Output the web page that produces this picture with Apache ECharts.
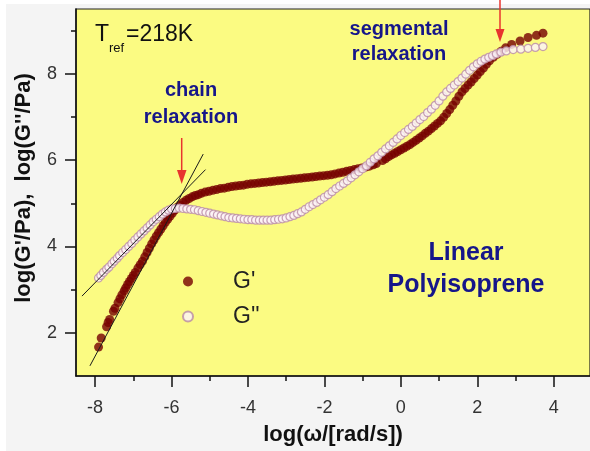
<!DOCTYPE html>
<html>
<head>
<meta charset="utf-8">
<script src="https://cdn.jsdelivr.net/npm/echarts@6/dist/echarts.min.js"></script>
<style>
  html, body { margin: 0; padding: 0; background: #fff; }
  #chart { width: 590px; height: 451px; }
</style>
</head>
<body>
<div id="chart"></div>
<script>
// log(G'/Pa) vs log(omega) -- storage modulus
const storageModulus = [
  [-7.91, 1.67], [-7.84, 1.88], [-7.70, 2.14], [-7.66, 2.24], [-7.62, 2.31], [-7.52, 2.50],
  [-7.48, 2.57], [-7.40, 2.70], [-7.35, 2.79], [-7.30, 2.88], [-7.24, 2.97], [-7.20, 3.04],
  [-7.15, 3.12], [-7.10, 3.19], [-7.05, 3.26], [-7.00, 3.33], [-6.95, 3.40], [-6.88, 3.50],
  [-6.82, 3.58], [-6.76, 3.66], [-6.70, 3.76], [-6.64, 3.86], [-6.58, 3.96], [-6.52, 4.06],
  [-6.46, 4.15], [-6.40, 4.24], [-6.34, 4.32], [-6.28, 4.40], [-6.22, 4.48], [-6.16, 4.56],
  [-6.10, 4.63], [-6.04, 4.70], [-5.98, 4.77], [-5.92, 4.84], [-5.86, 4.90], [-5.78, 4.96],
  [-5.70, 5.02], [-5.62, 5.07], [-5.54, 5.11], [-5.46, 5.15], [-5.38, 5.18], [-5.30, 5.20],
  [-5.22, 5.23], [-5.12, 5.26], [-5.02, 5.28], [-4.92, 5.30], [-4.82, 5.32], [-4.72, 5.34],
  [-4.62, 5.35], [-4.52, 5.37], [-4.42, 5.39], [-4.32, 5.40], [-4.22, 5.41], [-4.12, 5.42],
  [-4.02, 5.44], [-3.92, 5.45], [-3.82, 5.46], [-3.72, 5.47], [-3.62, 5.48], [-3.52, 5.49],
  [-3.42, 5.50], [-3.32, 5.51], [-3.22, 5.52], [-3.12, 5.53], [-3.02, 5.54], [-2.92, 5.55],
  [-2.82, 5.56], [-2.72, 5.57], [-2.62, 5.58], [-2.52, 5.59], [-2.42, 5.60], [-2.32, 5.61],
  [-2.22, 5.62], [-2.12, 5.63], [-2.02, 5.64], [-1.92, 5.65], [-1.82, 5.66], [-1.72, 5.68],
  [-1.62, 5.70], [-1.52, 5.72], [-1.42, 5.74], [-1.32, 5.76], [-1.22, 5.78], [-1.12, 5.80],
  [-1.02, 5.82], [-0.92, 5.84], [-0.82, 5.86], [-0.72, 5.89], [-0.64, 5.92], [-0.48, 5.99],
  [-0.40, 6.03], [-0.32, 6.08], [-0.24, 6.12], [-0.16, 6.16], [-0.08, 6.20], [0.00, 6.24],
  [0.08, 6.28], [0.16, 6.32], [0.24, 6.36], [0.32, 6.41], [0.40, 6.46], [0.48, 6.51],
  [0.56, 6.56], [0.64, 6.62], [0.72, 6.67], [0.80, 6.73], [0.88, 6.79], [0.96, 6.85],
  [1.04, 6.91], [1.12, 6.99], [1.20, 7.08], [1.28, 7.17], [1.36, 7.27], [1.44, 7.37],
  [1.52, 7.48], [1.60, 7.58], [1.68, 7.66], [1.76, 7.74], [1.84, 7.81], [1.92, 7.89],
  [2.00, 7.97], [2.08, 8.05], [2.16, 8.13], [2.24, 8.22], [2.32, 8.30], [2.42, 8.38],
  [2.52, 8.45], [2.62, 8.52], [2.74, 8.60], [2.90, 8.68], [3.12, 8.76], [3.33, 8.84],
  [3.55, 8.89], [3.72, 8.94]
]

// log(G''/Pa) vs log(omega) -- loss modulus
const lossModulus = [
  [-7.91, 3.27], [-7.85, 3.33], [-7.78, 3.40], [-7.70, 3.47], [-7.64, 3.52], [-7.56, 3.60],
  [-7.50, 3.66], [-7.42, 3.73], [-7.36, 3.79], [-7.28, 3.86], [-7.20, 3.93], [-7.12, 4.00],
  [-7.04, 4.07], [-6.96, 4.15], [-6.88, 4.22], [-6.80, 4.29], [-6.72, 4.36], [-6.64, 4.43],
  [-6.56, 4.50], [-6.48, 4.57], [-6.40, 4.63], [-6.32, 4.69], [-6.24, 4.75], [-6.16, 4.80],
  [-6.08, 4.84], [-6.00, 4.87], [-5.90, 4.88], [-5.80, 4.89], [-5.70, 4.88], [-5.60, 4.87],
  [-5.50, 4.86], [-5.40, 4.85], [-5.30, 4.83], [-5.20, 4.81], [-5.10, 4.79], [-5.00, 4.77],
  [-4.90, 4.75], [-4.80, 4.73], [-4.70, 4.71], [-4.60, 4.69], [-4.50, 4.67], [-4.40, 4.66],
  [-4.30, 4.65], [-4.20, 4.64], [-4.10, 4.63], [-4.00, 4.62], [-3.90, 4.62], [-3.80, 4.61],
  [-3.70, 4.61], [-3.60, 4.61], [-3.50, 4.61], [-3.40, 4.61], [-3.30, 4.62], [-3.20, 4.63],
  [-3.10, 4.64], [-3.00, 4.66], [-2.90, 4.69], [-2.80, 4.72], [-2.70, 4.76], [-2.60, 4.80],
  [-2.50, 4.86], [-2.40, 4.92], [-2.30, 4.97], [-2.20, 5.02], [-2.10, 5.08], [-2.00, 5.14],
  [-1.90, 5.20], [-1.80, 5.27], [-1.70, 5.34], [-1.60, 5.40], [-1.50, 5.46], [-1.40, 5.52],
  [-1.30, 5.59], [-1.20, 5.66], [-1.10, 5.73], [-1.00, 5.80], [-0.90, 5.87], [-0.80, 5.95],
  [-0.70, 6.03], [-0.60, 6.10], [-0.50, 6.18], [-0.40, 6.26], [-0.30, 6.33], [-0.20, 6.41],
  [-0.10, 6.49], [0.00, 6.57], [0.10, 6.64], [0.20, 6.71], [0.30, 6.78], [0.40, 6.86],
  [0.50, 6.94], [0.60, 7.01], [0.70, 7.10], [0.80, 7.18], [0.90, 7.27], [1.00, 7.37],
  [1.10, 7.48], [1.20, 7.58], [1.30, 7.66], [1.40, 7.74], [1.50, 7.82], [1.60, 7.90],
  [1.70, 7.99], [1.80, 8.08], [1.90, 8.16], [2.00, 8.23], [2.10, 8.29], [2.20, 8.34],
  [2.30, 8.38], [2.40, 8.42], [2.50, 8.46], [2.62, 8.50], [2.76, 8.53], [2.94, 8.56],
  [3.14, 8.57], [3.33, 8.59], [3.52, 8.61], [3.72, 8.63]
]

// terminal-zone fit lines (end points)
const fitLineStorage = [[-8.135, 1.235], [-5.171, 6.14]]
const fitLineLoss = [[-8.344, 2.85], [-5.111, 5.78]]

const xMajorTicks = [-8, -6, -4, -2, 0, 2, 4]
const xMinorTicks = [-7, -5, -3, -1, 1, 3]
const yMajorTicks = [2, 4, 6, 8]
const yMinorTicks = [3, 5, 7, 9]

const FONT = 'Liberation Sans'
const NAVY = '#16168a'
const ARROW = '#e8342e'

const chart = echarts.init(document.getElementById('chart'))

const fitLine = (data) => ({
  type: 'line',
  data: data,
  symbol: 'none',
  silent: true,
  z: 5,
  lineStyle: { color: '#1a1a1a', width: 1 },
  xAxisIndex: 0,
  yAxisIndex: 0
})

chart.setOption({
  backgroundColor: '#f4f4f4',
  animation: false,
  grid: {
    left: 76,
    right: -2,
    top: 9,
    bottom: 70,
    show: true,
    backgroundColor: '#fbfb82',
    borderColor: '#222',
    borderWidth: 1.2
  },
  legend: {
    data: ["G'", "G''"],
    orient: 'vertical',
    left: 177,
    top: 265,
    itemWidth: 80,
    itemHeight: 10,
    itemGap: 12,
    textStyle: { fontFamily: FONT, fontSize: 23, color: '#222' }
  },
  xAxis: [{
    type: 'value',
    min: -8.5,
    max: 4.95,
    position: 'bottom',
    splitLine: { show: false },
    axisLine: { onZero: false, lineStyle: { color: '#111', width: 1.5 } },
    axisTick: { customValues: xMajorTicks, length: 11, lineStyle: { color: '#111', width: 1.5 } },
    axisLabel: { customValues: xMajorTicks, margin: 23, fontFamily: FONT, fontSize: 18, color: '#333' },
    name: 'log(ω/[rad/s])',
    nameLocation: 'middle',
    nameGap: 48,
    nameTextStyle: { fontFamily: FONT, fontSize: 22, fontWeight: 'bold', color: '#111' }
  }, {
    type: 'value',
    min: -8.5,
    max: 4.95,
    position: 'bottom',
    splitLine: { show: false },
    axisLine: { show: false, onZero: false },
    axisTick: { customValues: xMinorTicks, length: 5, lineStyle: { color: '#111', width: 1.5 } },
    axisLabel: { show: false }
  }],
  yAxis: [{
    type: 'value',
    min: 1,
    max: 9.5,
    position: 'left',
    splitLine: { show: false },
    axisLine: { onZero: false, lineStyle: { color: '#111', width: 1.5 } },
    axisTick: { customValues: yMajorTicks, length: 11, lineStyle: { color: '#111', width: 1.5 } },
    axisLabel: { customValues: yMajorTicks, margin: 19, fontFamily: FONT, fontSize: 18, color: '#333' }
  }, {
    type: 'value',
    min: 1,
    max: 9.5,
    position: 'left',
    splitLine: { show: false },
    axisLine: { show: false, onZero: false },
    axisTick: { customValues: yMinorTicks, length: 5, lineStyle: { color: '#111', width: 1.5 } },
    axisLabel: { show: false }
  }],
  series: [
    {
      name: "G'",
      type: 'scatter',
      data: storageModulus,
      symbol: 'circle',
      symbolSize: 9,
      z: 3,
      itemStyle: { color: '#750000' }
    },
    {
      name: "G''",
      type: 'scatter',
      data: lossModulus,
      symbol: 'circle',
      symbolSize: 8,
      z: 4,
      itemStyle: { color: '#fdf4fa', borderColor: '#b98aa6', borderWidth: 1.2 }
    },
    fitLine(fitLineStorage),
    fitLine(fitLineLoss)
  ],
  graphic: [
    // thin white margins of the original scan
    { type: 'rect', left: 0, top: 0, shape: { width: 590, height: 4 }, style: { fill: '#fff' }, z: -1 },
    { type: 'rect', left: 0, top: 0, shape: { width: 6, height: 451 }, style: { fill: '#fff' }, z: -1 },
    {
      type: 'text', x: 24, y: 188, rotation: Math.PI / 2,
      style: { text: "log(G'/Pa),  log(G''/Pa)", font: 'bold 22px ' + FONT, fill: '#111', align: 'center', verticalAlign: 'middle' }
    },
    { type: 'text', x: 95, y: 35, style: { text: 'T', font: '23px ' + FONT, fill: '#111', verticalAlign: 'middle' } },
    { type: 'text', x: 109, y: 48, style: { text: 'ref', font: '13px ' + FONT, fill: '#111', verticalAlign: 'middle' } },
    { type: 'text', x: 126, y: 35, style: { text: '=218K', font: '23px ' + FONT, fill: '#111', verticalAlign: 'middle' } },
    {
      type: 'text', x: 191, y: 104,
      style: { text: 'chain\nrelaxation', font: 'bold 20px ' + FONT, lineHeight: 27, fill: NAVY, align: 'center', verticalAlign: 'middle' }
    },
    {
      type: 'text', x: 399, y: 42,
      style: { text: 'segmental\nrelaxation', font: 'bold 20px ' + FONT, lineHeight: 25, fill: NAVY, align: 'center', verticalAlign: 'middle' }
    },
    {
      type: 'text', x: 466, y: 269,
      style: { text: 'Linear\nPolyisoprene', font: 'bold 25px ' + FONT, lineHeight: 32, fill: NAVY, align: 'center', verticalAlign: 'middle' }
    },
    // red arrows
    { type: 'line', shape: { x1: 181.7, y1: 138, x2: 181.7, y2: 172 }, style: { stroke: ARROW, lineWidth: 1.5 }, z: 10 },
    { type: 'polygon', shape: { points: [[177, 170], [186.5, 170], [181.7, 184]] }, style: { fill: ARROW }, z: 10 },
    { type: 'line', shape: { x1: 500, y1: 0, x2: 500, y2: 30 }, style: { stroke: ARROW, lineWidth: 1.5 }, z: 10 },
    { type: 'polygon', shape: { points: [[495.5, 29], [504.5, 29], [500, 42]] }, style: { fill: ARROW }, z: 10 }
  ]
})
</script>
</body>
</html>
